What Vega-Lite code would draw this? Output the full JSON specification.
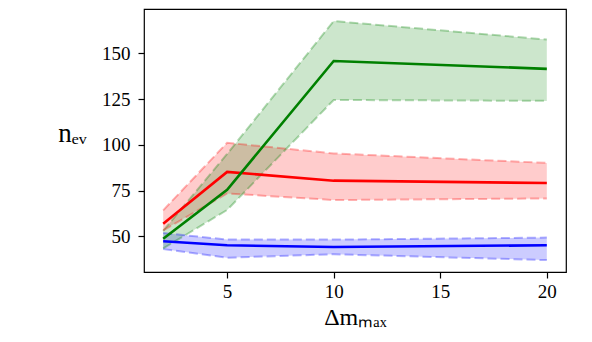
{
  "$schema": "https://vega.github.io/schema/vega-lite/v6.json",
  "autosize": "none",
  "width": 422,
  "height": 263,
  "padding": {"left": 144, "top": 9, "right": 26, "bottom": 70},
  "background": "white",
  "config": {
    "view": {"stroke": "black", "strokeWidth": 1.2},
    "font": "Liberation Serif",
    "axis": {
      "grid": false,
      "domain": false,
      "tickColor": "black",
      "tickSize": 6,
      "tickWidth": 1.2,
      "labelColor": "black",
      "titleColor": "black",
      "titleFontWeight": "normal"
    }
  },
  "data": {
    "values": [
      {"s": "blue", "x": 2, "mean": 47.3, "lo": 43.0, "hi": 51.8},
      {"s": "blue", "x": 5, "mean": 45.1, "lo": 38.3, "hi": 48.2},
      {"s": "blue", "x": 10, "mean": 44.2, "lo": 40.2, "hi": 48.2},
      {"s": "blue", "x": 20, "mean": 45.1, "lo": 37.0, "hi": 49.3},
      {"s": "red", "x": 2, "mean": 56.9, "lo": 53.3, "hi": 64.2},
      {"s": "red", "x": 5, "mean": 85.2, "lo": 73.4, "hi": 101.1},
      {"s": "red", "x": 10, "mean": 80.4, "lo": 69.8, "hi": 95.3},
      {"s": "red", "x": 20, "mean": 79.1, "lo": 70.7, "hi": 90.1},
      {"s": "green", "x": 2, "mean": 48.7, "lo": 43.4, "hi": 53.0},
      {"s": "green", "x": 5, "mean": 75.4, "lo": 64.4, "hi": 95.0},
      {"s": "green", "x": 10, "mean": 145.8, "lo": 124.5, "hi": 167.6},
      {"s": "green", "x": 20, "mean": 141.5, "lo": 124.0, "hi": 157.5}
    ]
  },
  "encoding": {
    "x": {
      "field": "x", "type": "quantitative",
      "scale": {"domain": [1.1, 20.9], "nice": false, "zero": false},
      "axis": {"values": [5, 10, 15, 20], "title": "Δmₘₐₓ", "titleFont": "Liberation Serif", "titleFontSize": 24, "titlePadding": 4, "labelFont": "Liberation Serif", "labelFontSize": 19, "labelPadding": 4}
    },
    "color": {
      "field": "s", "type": "nominal",
      "scale": {"domain": ["blue", "red", "green"], "range": ["#0000ff", "#ff0000", "#008000"]},
      "legend": null
    }
  },
  "layer": [
    {
      "mark": {"type": "area", "opacity": 0.2},
      "encoding": {
        "y": {
          "field": "lo", "type": "quantitative",
          "scale": {"domain": [30.5, 174.2], "nice": false, "zero": false},
          "axis": {"values": [50, 75, 100, 125, 150], "title": "nₑᵥ", "titleFont": "Liberation Serif", "titleAngle": 0, "titleFontSize": 27, "titleAlign": "center", "titleBaseline": "alphabetic", "titleX": -72, "titleY": 132, "labelFont": "Liberation Serif", "labelFontSize": 19, "labelPadding": 8}
        },
        "y2": {"field": "hi"}
      }
    },
    {
      "mark": {"type": "line", "strokeDash": [9, 4], "strokeWidth": 2, "opacity": 0.3},
      "encoding": {"y": {"field": "hi", "type": "quantitative"}}
    },
    {
      "mark": {"type": "line", "strokeDash": [9, 4], "strokeWidth": 2, "opacity": 0.3},
      "encoding": {"y": {"field": "lo", "type": "quantitative"}}
    },
    {
      "mark": {"type": "line", "strokeWidth": 2.6},
      "encoding": {"y": {"field": "mean", "type": "quantitative"}}
    }
  ]
}
